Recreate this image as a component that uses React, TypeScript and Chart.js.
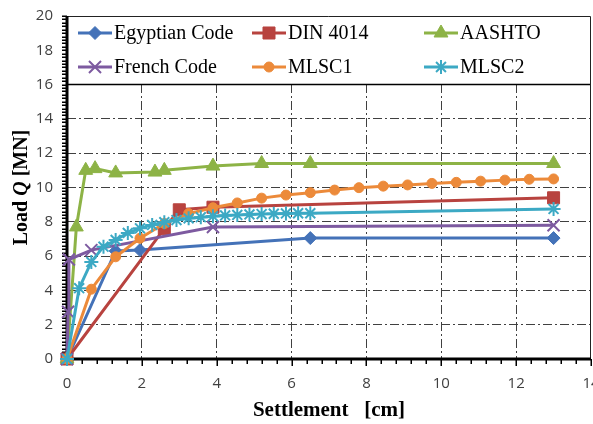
import React, { useEffect, useRef } from 'react';
import { Chart, registerables } from 'chart.js';

Chart.register(...registerables);

const seriesNames = ['Egyptian Code', 'DIN 4014', 'AASHTO', 'French Code', 'MLSC1', 'MLSC2'];

const egyptianX = [0, 1.3, 1.95, 6.5, 13];
const egyptianY = [0, 6.3, 6.35, 7.05, 7.05];

const dinX = [0, 2.6, 3.0, 3.9, 13];
const dinY = [0, 7.6, 8.7, 8.85, 9.4];

const aashtoX = [0, 0.25, 0.5, 0.75, 1.3, 2.35, 2.6, 3.9, 5.2, 6.5, 13];
const aashtoY = [0, 7.7, 11.0, 11.1, 10.85, 10.9, 11.0, 11.25, 11.4, 11.4, 11.4];

const frenchX = [0, 0.03, 0.05, 0.65, 3.9, 13];
const frenchY = [0, 2.75, 5.8, 6.35, 7.7, 7.8];

const mlsc1X = [0, 0.65, 1.3, 1.95, 2.6, 3.25, 3.9, 4.55, 5.2, 5.85, 6.5, 7.15, 7.8, 8.45, 9.1, 9.75, 10.4, 11.05, 11.7, 12.35, 13];
const mlsc1Y = [0, 4.07, 5.96, 7.04, 7.9, 8.48, 8.82, 9.1, 9.38, 9.56, 9.7, 9.85, 9.99, 10.08, 10.15, 10.24, 10.3, 10.37, 10.43, 10.48, 10.5];

const mlsc2X = [0, 0.325, 0.65, 0.975, 1.3, 1.625, 1.95, 2.275, 2.6, 2.925, 3.25, 3.575, 3.9, 4.225, 4.55, 4.875, 5.2, 5.525, 5.85, 6.175, 6.5, 13];
const mlsc2Y = [0, 4.13, 5.66, 6.55, 6.94, 7.35, 7.62, 7.82, 7.98, 8.1, 8.2, 8.27, 8.33, 8.37, 8.4, 8.43, 8.45, 8.47, 8.49, 8.5, 8.5, 8.75];

const seriesX = [egyptianX, dinX, aashtoX, frenchX, mlsc1X, mlsc2X];
const seriesY = [egyptianY, dinY, aashtoY, frenchY, mlsc1Y, mlsc2Y];

const seriesColors = ['#4472B8', '#B8433F', '#8DB346', '#7D5AA0', '#EC8A3A', '#3CA9C4'];
const markerStyles = ['rectRot', 'rect', 'triangle', 'crossRot', 'circle', 'star'];
const markerRadii = [6.5, 8.5, 8, 8.5, 5, 7];
const markerBorders = [1, 1, 1, 2, 1, 2];

const xTickMin = 0;
const xTickMax = 14;
const xTickStep = 2;
const yTickMin = 0;
const yTickMax = 20;
const yTickStep = 2;
const legendFloor = 16;

const SERIF = '"Liberation Serif", "Times New Roman", serif';
const SANS = '"Open Sans", sans-serif';

function drawMarker(ctx: CanvasRenderingContext2D, style: string, x: number, y: number, r: number, color: string, bw: number) {
  ctx.save();
  ctx.fillStyle = color;
  ctx.strokeStyle = color;
  ctx.lineWidth = bw;
  ctx.beginPath();
  if (style === 'rectRot') {
    ctx.moveTo(x - r, y);
    ctx.lineTo(x, y - r);
    ctx.lineTo(x + r, y);
    ctx.lineTo(x, y + r);
    ctx.closePath();
    ctx.fill();
    ctx.stroke();
  } else if (style === 'rect') {
    const s = r * Math.SQRT1_2;
    ctx.rect(x - s, y - s, 2 * s, 2 * s);
    ctx.fill();
    ctx.stroke();
  } else if (style === 'triangle') {
    for (let k = 0; k < 3; k++) {
      const a = (k * 2 * Math.PI) / 3;
      const px = x + Math.sin(a) * r;
      const py = y - Math.cos(a) * r;
      if (k === 0) ctx.moveTo(px, py);
      else ctx.lineTo(px, py);
    }
    ctx.closePath();
    ctx.fill();
    ctx.stroke();
  } else if (style === 'circle') {
    ctx.arc(x, y, r, 0, Math.PI * 2);
    ctx.fill();
    ctx.stroke();
  } else if (style === 'crossRot' || style === 'star') {
    const d = r * Math.SQRT1_2;
    ctx.moveTo(x - d, y - d);
    ctx.lineTo(x + d, y + d);
    ctx.moveTo(x - d, y + d);
    ctx.lineTo(x + d, y - d);
    if (style === 'star') {
      ctx.moveTo(x, y - r);
      ctx.lineTo(x, y + r);
      ctx.moveTo(x - r, y);
      ctx.lineTo(x + r, y);
    }
    ctx.stroke();
  }
  ctx.restore();
}

const framePlugin = {
  id: 'framePlugin',
  beforeDatasetsDraw(chart: any) {
    const ctx: CanvasRenderingContext2D = chart.ctx;
    const { left, right, top, bottom } = chart.chartArea;
    const xs = chart.scales.x;
    const ys = chart.scales.y;
    const yLeg = ys.getPixelForValue(legendFloor);
    ctx.save();

    // legend box
    ctx.fillStyle = '#ffffff';
    ctx.fillRect(left, top, right - left, yLeg - top);
    ctx.strokeStyle = '#000000';
    ctx.lineWidth = 1.5;
    ctx.beginPath();
    ctx.moveTo(left, yLeg);
    ctx.lineTo(right, yLeg);
    ctx.stroke();

    // top & right borders
    ctx.lineWidth = 1;
    ctx.strokeStyle = '#222222';
    ctx.beginPath();
    ctx.moveTo(left, top + 0.5);
    ctx.lineTo(right - 0.5, top + 0.5);
    ctx.lineTo(right - 0.5, bottom);
    ctx.stroke();

    // minor ticks on y axis
    ctx.strokeStyle = '#000000';
    ctx.lineWidth = 1.5;
    ctx.beginPath();
    for (let v = yTickMin; v <= yTickMax + 1e-6; v += 0.2) {
      const py = Math.round(ys.getPixelForValue(v)) + 0.25;
      ctx.moveTo(left - 5, py);
      ctx.lineTo(left, py);
    }
    ctx.stroke();

    // minor ticks on x axis
    ctx.beginPath();
    for (let v = xTickMin; v <= xTickMax + 1e-6; v += 0.4) {
      const px = Math.round(xs.getPixelForValue(v)) + 0.25;
      const isMajor = Math.abs(v / 2 - Math.round(v / 2)) < 1e-6;
      ctx.moveTo(px, bottom);
      ctx.lineTo(px, bottom + (isMajor ? 7 : 5));
    }
    ctx.stroke();

    // thick axes
    ctx.lineWidth = 3;
    ctx.beginPath();
    ctx.moveTo(left, top);
    ctx.lineTo(left, bottom + 1.5);
    ctx.moveTo(left - 1.5, bottom);
    ctx.lineTo(right, bottom);
    ctx.stroke();

    // x tick labels (drawn from the scale's ticks)
    ctx.font = '15px ' + SANS;
    ctx.fillStyle = '#404040';
    ctx.textAlign = 'center';
    ctx.textBaseline = 'alphabetic';
    xs.ticks.forEach((t: any) => {
      ctx.fillText(String(t.value), xs.getPixelForValue(t.value), 388);
    });

    // legend items
    const colLine = [78, 252, 424];
    const rowY = [33, 67];
    ctx.font = '20px ' + SERIF;
    ctx.textBaseline = 'alphabetic';
    ctx.textAlign = 'left';
    seriesNames.forEach((name, i) => {
      const col = i % 3;
      const row = Math.floor(i / 3);
      const x0 = colLine[col];
      const y0 = rowY[row];
      ctx.strokeStyle = seriesColors[i];
      ctx.lineWidth = 3;
      ctx.beginPath();
      ctx.moveTo(x0, y0);
      ctx.lineTo(x0 + 34, y0);
      ctx.stroke();
      drawMarker(ctx, markerStyles[i], x0 + 17, y0, markerRadii[i], seriesColors[i], markerBorders[i]);
      ctx.fillStyle = '#000000';
      ctx.fillText(name, x0 + 36, y0 + 5.5);
    });

    // y axis title
    ctx.save();
    ctx.translate(27, (top + bottom) / 2);
    ctx.rotate(-Math.PI / 2);
    const parts = [
      { t: 'Load ', f: 'bold 20px ' + SERIF },
      { t: 'Q', f: 'italic bold 20px ' + SERIF },
      { t: ' [MN]', f: 'bold 20px ' + SERIF },
    ];
    let total = 0;
    parts.forEach((p) => {
      ctx.font = p.f;
      total += ctx.measureText(p.t).width;
    });
    let cx = -total / 2;
    ctx.fillStyle = '#000000';
    parts.forEach((p) => {
      ctx.font = p.f;
      ctx.fillText(p.t, cx, 0);
      cx += ctx.measureText(p.t).width;
    });
    ctx.restore();

    // x axis title
    ctx.font = 'bold 21px ' + SERIF;
    ctx.textAlign = 'center';
    ctx.fillStyle = '#000000';
    ctx.fillText('Settlement   [cm]', (left + right) / 2, 416);

    ctx.restore();
  },
};

const App = () => {
  const ref = useRef<HTMLCanvasElement>(null);
  useEffect(() => {
    const canvas = ref.current;
    if (!canvas) return;
    const datasets = seriesNames.map((name, i) => ({
      label: name,
      data: seriesX[i].map((x, k) => ({ x, y: seriesY[i][k] })),
      borderColor: seriesColors[i],
      backgroundColor: seriesColors[i],
      pointBackgroundColor: seriesColors[i],
      pointBorderColor: seriesColors[i],
      pointStyle: markerStyles[i],
      pointRadius: markerRadii[i],
      pointBorderWidth: markerBorders[i],
      borderWidth: 3,
      tension: 0,
      clip: false,
      showLine: true,
      order: 6 - i,
    }));
    const gridColorFn = (hidden: number[]) => (c: any) =>
      hidden.some((h) => Math.abs(h - c.tick.value) < 1e-6) ? 'rgba(0,0,0,0)' : '#404040';
    const chart = new Chart(canvas, {
      type: 'scatter',
      data: { datasets: datasets as any },
      options: {
        animation: false,
        responsive: false,
        devicePixelRatio: 1,
        layout: { autoPadding: false, padding: { top: 16, right: 2, left: 0, bottom: 0 } },
        plugins: { legend: { display: false }, tooltip: { enabled: false } },
        scales: {
          x: {
            type: 'linear',
            min: xTickMin,
            max: xTickMax,
            ticks: { stepSize: xTickStep, autoSkip: false, display: false },
            grid: { color: gridColorFn([0, 14]), drawTicks: false, lineWidth: 1 },
            border: { display: false, dash: [9, 3, 2, 3] },
            afterFit: (s: any) => {
              s.height = 65;
              s.paddingLeft = 0;
              s.paddingRight = 0;
            },
          },
          y: {
            type: 'linear',
            min: yTickMin,
            max: yTickMax,
            ticks: {
              stepSize: yTickStep,
              autoSkip: false,
              padding: 14,
              color: '#404040',
              font: { family: SANS, size: 15 },
            },
            grid: { color: gridColorFn([0, 16, 18, 20]), drawTicks: false, lineWidth: 1 },
            border: { display: false, dash: [9, 3, 2, 3] },
            afterFit: (s: any) => {
              s.width = 67;
              s.paddingTop = 0;
              s.paddingBottom = 0;
            },
          },
        },
      } as any,
      plugins: [framePlugin],
    });
    return () => chart.destroy();
  }, []);
  return (
    <div style={{ position: 'absolute', left: 0, top: 0, width: 593, height: 424, background: '#ffffff' }}>
      <canvas ref={ref} width={593} height={424} style={{ display: 'block', width: 593, height: 424 }} />
    </div>
  );
};

export default App;
